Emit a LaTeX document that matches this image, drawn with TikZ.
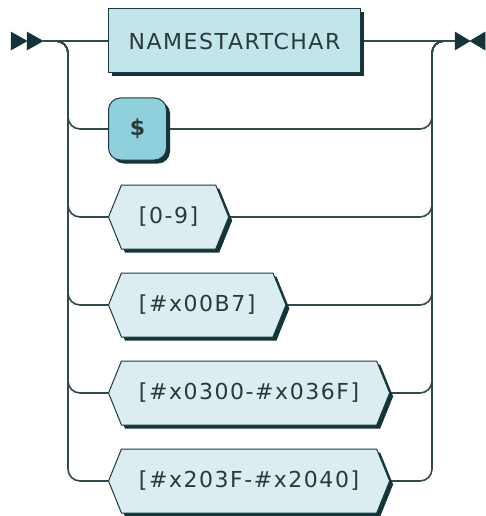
\documentclass[tikz,border=0pt]{standalone}
\usepackage{fontspec}
\newfontfamily\railfont{DejaVu Sans}[LetterSpace=7]
\usepackage{tikz}
\usetikzlibrary{
arrows.meta,
positioning,
shapes.symbols,
shadows,
backgrounds
}
\definecolor{railline}{HTML}{2F4A4D}
\definecolor{railborder}{HTML}{1C3A3F}
\definecolor{railshadow}{HTML}{14343A}
\definecolor{railtext}{HTML}{2A3A3C}
\definecolor{ntfill}{HTML}{C2E5EB}
\definecolor{tkfill}{HTML}{8FD0DC}
\definecolor{chfill}{HTML}{DCEDF1}

\begin{document}
\begin{tikzpicture}[
  x=1pt, y=-1pt,
  rail/.style={line width=1.6pt, railline, rounded corners=12pt},
  boxshadow/.style={drop shadow={shadow xshift=3.5pt, shadow yshift=-3.5pt, fill=railshadow, opacity=1}},
  nonterm/.style={draw=railborder, line width=1pt, fill=ntfill, boxshadow, anchor=west,
    minimum height=64pt, inner xsep=19pt, text=railtext, font=\railfont\fontsize{22}{26}\selectfont},
  term/.style={draw=railborder, line width=1pt, fill=tkfill, boxshadow, anchor=west, rounded corners=12pt,
    minimum height=62pt, minimum width=58pt, text=railtext, font=\railfont\bfseries\fontsize{22}{26}\selectfont},
  charset/.style={signal, signal to=west and east, signal pointer angle=136,
    draw=railborder, line width=1pt, fill=chfill, boxshadow, anchor=west,
    minimum height=64pt, inner xsep=17.5pt, text=railtext, font=\railfont\fontsize{22}{26}\selectfont},
  marker/.style={fill=railshadow, draw=railshadow, line width=0.5pt, line join=miter}
]
\useasboundingbox (0,0) rectangle (485,516);

% Entry and exit points
\coordinate (start) at (43,41);
\coordinate (lsplit) at (68,41);
\coordinate (rjoin) at (432,41);
\coordinate (end) at (455,41);

% Start marker
\filldraw[marker] (11,32) -- (27,41) -- (11,50) -- cycle;
\filldraw[marker] (27,32) -- (43,41) -- (27,50) -- cycle;

% End marker
\filldraw[marker] (455,32) -- (470,41) -- (455,50) -- cycle;
\filldraw[marker] (485,32) -- (470,41) -- (485,50) -- cycle;

% Choices
\node[nonterm, minimum width=252pt] (namestart) at (108,41) {NAMESTARTCHAR};
\node[term] (dollar) at (108,129) {\$};
\node[charset] (digits) at (108,217) {[0-9]};
\node[charset] (middot) at (108,305) {[\#x00B7]};
\node[charset] (combining) at (108,393) {[\#x0300-\#x036F]};
\node[charset] (tie) at (108,481) {[\#x203F-\#x2040]};

% Rails
\begin{scope}[on background layer]
\draw[rail] (start) -- (namestart.west);
\draw[rail] (namestart.east) -- (end);
\foreach \n in {dollar, digits, middot, combining, tie} {
  \draw[rail] (start) -- (lsplit) |- (\n.west);
  \draw[rail] (\n.east) -| (rjoin) -- (end);
}
\end{scope}

\end{tikzpicture}
\end{document}
